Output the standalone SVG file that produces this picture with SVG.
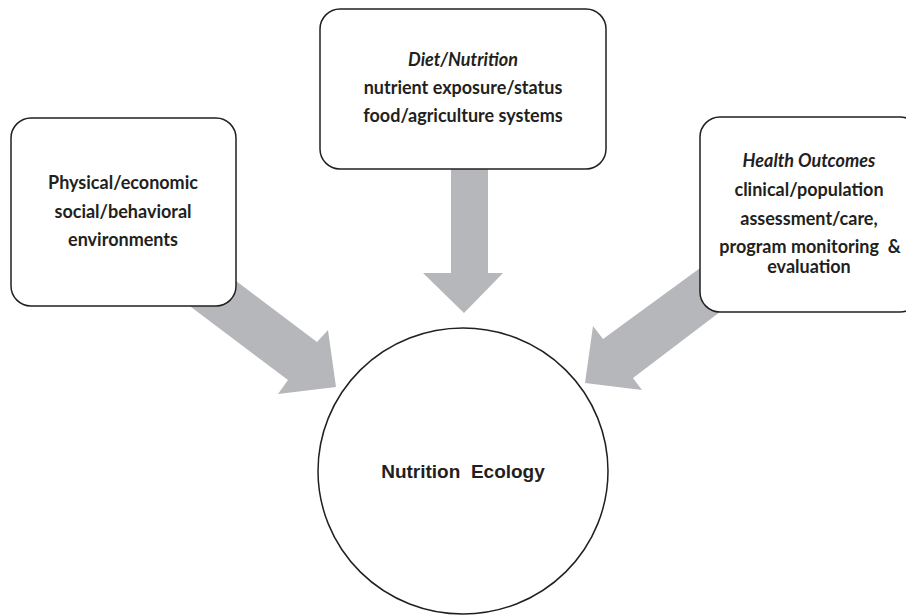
<svg xmlns="http://www.w3.org/2000/svg" width="906" height="615" viewBox="0 0 906 615">
<style>
.box{fill:#ffffff;stroke:#231f20;stroke-width:1.5}
.arrow{fill:#b6b7ba;stroke:none}
.t{font-family:Lato,"Open Sans",sans-serif;font-weight:bold;font-size:18px;fill:#231f20;text-anchor:middle;white-space:pre}
.i{font-style:italic}
.c{font-family:"Liberation Sans",Arial,sans-serif;font-weight:bold;font-size:19px;fill:#231f20;text-anchor:middle;white-space:pre}
</style>
<rect width="906" height="615" fill="#ffffff"/>
<g id="connectors">
<polygon class="arrow" points="187,244 317,342 328,330 336,387 278,394 288,380 142,270"/>
<polygon class="arrow" points="451,160 488,160 488,273 503,273 464,313 423,273 451,273"/>
<polygon class="arrow" points="748,233 603,339 593,326 585,383 642,390 633,378 766,277"/>
</g>
<g id="node-physical">
<rect class="box" x="11" y="118" width="225" height="188" rx="20"/>
<text class="t" x="123" y="189">Physical/economic</text>
<text class="t" x="123" y="218">social/behavioral</text>
<text class="t" x="123" y="246">environments</text>
</g>
<g id="node-diet">
<rect class="box" x="320" y="9" width="286" height="160" rx="20"/>
<text class="t i" x="463" y="66">Diet/Nutrition</text>
<text class="t" x="463" y="94">nutrient exposure/status</text>
<text class="t" x="463" y="122">food/agriculture systems</text>
</g>
<g id="node-health">
<rect class="box" x="700" y="117" width="220" height="195" rx="20"/>
<text class="t i" x="809" y="167">Health Outcomes</text>
<text class="t" x="809" y="196">clinical/population</text>
<text class="t" x="809" y="225">assessment/care,</text>
<text class="t" x="810" y="253">program monitoring  &amp;</text>
<text class="t" x="809" y="273">evaluation</text>
</g>
<g id="node-ecology">
<ellipse class="box" cx="463" cy="471" rx="145" ry="143"/>
<text class="c" x="463" y="478">Nutrition  Ecology</text>
</g>
</svg>
